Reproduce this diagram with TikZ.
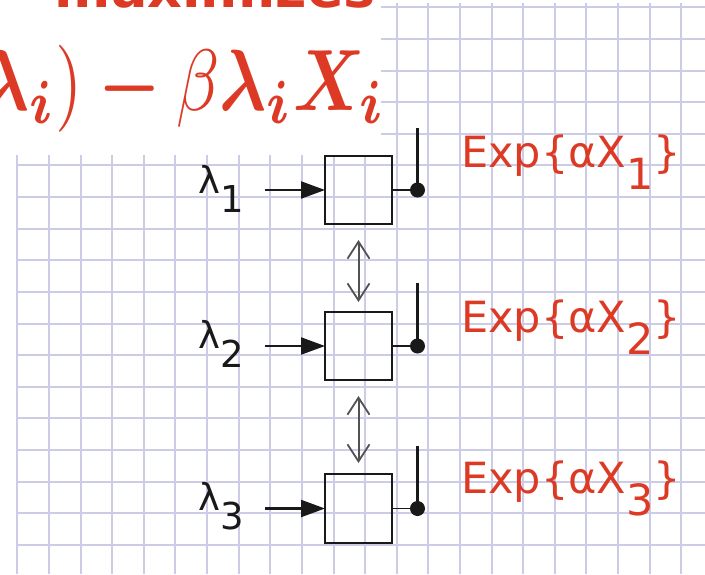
\documentclass[tikz,border=0pt]{standalone}
\usepackage{graphicx}
\usepackage{amsmath}
\usepackage{fontspec}
\newfontfamily\dvs{DejaVu Sans}
\usetikzlibrary{arrows.meta}
\definecolor{gridc}{RGB}{204,204,230}
\definecolor{redt}{RGB}{221,58,38}
\definecolor{ink}{RGB}{25,25,25}
\newcommand{\myformula}{\scalebox{7.0}[8.7]{$\boldsymbol{\lambda_i})\mathbin{\boldsymbol{-}}\beta\boldsymbol{\lambda_i X_i}$}}
\tikzset{
  gridline/.style={draw=gridc, line width=2pt},
  blockbox/.style={draw=ink, line width=2.2pt, minimum width=67pt, minimum height=68pt, inner sep=0pt, outer sep=0pt},
  outdot/.style={circle, fill=ink, minimum size=15pt, inner sep=0pt, outer sep=0pt},
  inarrow/.style={draw=ink, line width=2.2pt, -{Triangle[length=24pt,width=17pt]}},
  outline/.style={draw=ink, line width=1.8pt},
  linkarrow/.style={draw=ink!75, line width=2pt, {Straight Barb[length=17pt,width=22pt,line width=1.8pt]}-{Straight Barb[length=17pt,width=22pt,line width=1.8pt]}},
  lamlabel/.style={anchor=base west, inner sep=0pt, text=ink, font=\dvs\fontsize{37}{37}\selectfont},
  explabel/.style={anchor=base west, inner sep=0pt, text=redt, font=\dvs\fontsize{43}{43}\selectfont},
  toptext/.style={anchor=base east, inner sep=0pt, text=redt},
}
\begin{document}
\begin{tikzpicture}[x=1pt,y=-1pt]
\useasboundingbox (0,0) rectangle (705,574);
\clip (0,0) rectangle (705,574);
% squared paper
\foreach \k in {0,...,21} \draw[gridline] ({17.3+31.62*\k},3) -- ({17.3+31.62*\k},574);
\foreach \k in {0,...,17} \draw[gridline] (17,{7.3+31.62*\k}) -- (705,{7.3+31.62*\k});
% white panel with the (cut) red text
\fill[white] (0,0) rectangle (381,155);
\node[toptext, font=\dvs\bfseries\fontsize{54}{54}\selectfont] (topword) at (376,7) {maximizes};
\node[toptext] (formula) at (386,110) {\myformula};
% blocks
\node[blockbox] (b1) at (358.5,190) {};
\node[blockbox] (b2) at (358.5,346) {};
\node[blockbox, minimum height=69pt] (b3) at (358.5,508.5) {};
% input labels and arrows
\node[lamlabel] (l1) at (198,193) {λ\raisebox{-19pt}{1}};
\node[lamlabel] (l2) at (198,348) {λ\raisebox{-19pt}{2}};
\node[lamlabel] (l3) at (198,510) {λ\raisebox{-19pt}{3}};
\coordinate (s1) at (265,190);
\coordinate (s2) at (265,346);
\coordinate (s3) at (265,508.5);
\draw[inarrow] (s1) -- (s1 -| b1.west);
\draw[inarrow] (s2) -- (s2 -| b2.west);
\draw[inarrow] (s3) -- (s3 -| b3.west);
% outputs
\node[outdot] (d1) at (417.5,190) {};
\node[outdot] (d2) at (417.5,346) {};
\node[outdot] (d3) at (417.5,508.5) {};
\coordinate (t1) at (417.5,128);
\coordinate (t2) at (417.5,283);
\coordinate (t3) at (417.5,446);
\draw[outline] (b1.east) -- (d1.center);
\draw[outline] (b2.east) -- (d2.center);
\draw[outline] (b3.east) -- (d3.center);
\draw[outline, line width=2.2pt] (t1) -- (d1.center);
\draw[outline, line width=2.2pt] (t2) -- (d2.center);
\draw[outline, line width=2.2pt] (t3) -- (d3.center);
% links between blocks
\coordinate (u1) at (358.5,240);
\coordinate (v1) at (358.5,302);
\coordinate (u2) at (358.5,396);
\coordinate (v2) at (358.5,463);
\draw[linkarrow] (u1) -- (v1);
\draw[linkarrow] (u2) -- (v2);
% output labels
\node[explabel] (e1) at (461,167) {Exp\{αX\raisebox{-22pt}{1}\}};
\node[explabel] (e2) at (461,332) {Exp\{αX\raisebox{-22pt}{2}\}};
\node[explabel] (e3) at (461,493) {Exp\{αX\raisebox{-22pt}{3}\}};
\end{tikzpicture}
\end{document}
